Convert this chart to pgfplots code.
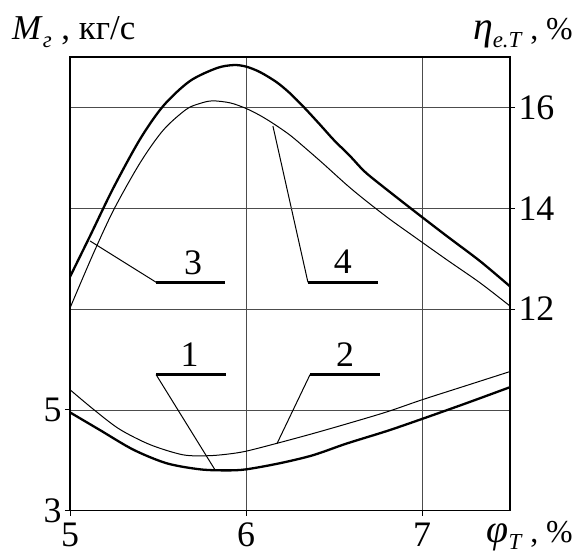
\documentclass[border=0pt]{standalone}
\usepackage{fontspec}
\setmainfont{Liberation Serif}
\usepackage{pgfplots}
\usepackage{pgfplotstable}
\pgfplotsset{compat=1.18}

\newcommand{\ticfont}{\fontsize{36}{38}\selectfont}
\newcommand{\mfont}{\fontsize{35}{38}\selectfont}
\newcommand{\labfont}{\fontsize{32}{35}\selectfont}
\newcommand{\grkfont}{\fontsize{40}{42}\selectfont}
\newcommand{\subfont}{\fontsize{23}{25}\selectfont}

% Mass flow of gas, kg/s (left scale)
\pgfplotstableread{
x y
5.00 4.95
5.17 4.60
5.36 4.21
5.55 3.94
5.74 3.82
5.89 3.80
6.00 3.82
6.19 3.94
6.38 4.10
6.57 4.33
6.80 4.58
7.00 4.82
7.25 5.13
7.50 5.45
}\curveone

\pgfplotstableread{
x y
5.00 5.40
5.13 5.02
5.28 4.62
5.455 4.31
5.64 4.11
5.78 4.09
5.89 4.12
6.00 4.18
6.19 4.35
6.38 4.53
6.57 4.72
6.80 4.96
7.00 5.20
7.25 5.48
7.50 5.76
}\curvetwo

% Effective efficiency, % (right scale)
\pgfplotstableread{
x y
5.00 12.64
5.114 13.45
5.246 14.40
5.398 15.37
5.53 16.03
5.68 16.52
5.834 16.78
5.93 16.84
6.00 16.81
6.08 16.70
6.174 16.50
6.25 16.28
6.33 16.00
6.42 15.66
6.50 15.35
6.59 15.04
6.67 14.74
6.76 14.48
6.95 13.96
7.14 13.45
7.33 12.95
7.50 12.45
}\curvethree

\pgfplotstableread{
x y
5.00 12.02
5.13 13.08
5.25 13.98
5.40 14.91
5.53 15.55
5.66 15.96
5.74 16.08
5.81 16.13
5.91 16.09
6.00 15.98
6.08 15.84
6.155 15.68
6.25 15.45
6.345 15.17
6.44 14.88
6.57 14.47
6.67 14.18
6.81 13.80
6.95 13.45
7.14 12.98
7.33 12.52
7.50 12.06
}\curvefour

\pgfplotsset{
  common/.style={
    scale only axis, width=440bp, height=453.7bp,
    xmin=5, xmax=7.5,
    axis line style={line width=1.2bp},
    tick align=outside, major tick length=5bp,
    every tick/.style={black, line width=0.8bp},
    major grid style={black!70, line width=0.7bp},
    ticklabel style={font=\ticfont},
    /pgf/number format/assume math mode=true,
  },
}

\begin{document}
\begin{tikzpicture}
\begin{axis}[common,
  ymin=3, ymax=12,
  xtick={5,6,7}, ytick={3,5},
  xtick pos=left, ytick pos=left,
  xticklabel style={inner sep=1bp, yshift=-6bp},
  grid=major,
]
\addplot[black, line width=2.3bp, smooth, tension=0.5] table {\curveone};
\addplot[black, line width=1bp, smooth, tension=0.5] table {\curvetwo};

% leaders and curve numbers
\draw[line width=1bp] (axis cs:5.114,8.35) -- (axis cs:5.49,7.53);
\draw[line width=2.6bp] (axis cs:5.49,7.53) -- (axis cs:5.88,7.53);
\node[font=\ticfont, anchor=base, inner sep=0pt] at (axis cs:5.70,7.68) {3};

\draw[line width=1bp] (axis cs:6.153,10.63) -- (axis cs:6.352,7.53);
\draw[line width=2.6bp] (axis cs:6.352,7.53) -- (axis cs:6.75,7.53);
\node[font=\ticfont, anchor=base, inner sep=0pt] at (axis cs:6.55,7.70) {4};

\draw[line width=1bp] (axis cs:5.824,3.81) -- (axis cs:5.489,5.70);
\draw[line width=2.6bp] (axis cs:5.489,5.70) -- (axis cs:5.886,5.70);
\node[font=\ticfont, anchor=base, inner sep=0pt] at (axis cs:5.68,5.86) {1};

\draw[line width=1bp] (axis cs:6.176,4.33) -- (axis cs:6.364,5.70);
\draw[line width=2.6bp] (axis cs:6.364,5.70) -- (axis cs:6.761,5.70);
\node[font=\ticfont, anchor=base, inner sep=0pt] at (axis cs:6.5625,5.86) {2};
\end{axis}

\begin{axis}[common,
  ymin=8, ymax=17,
  xtick=\empty, ytick={12,14,16},
  ytick pos=right, yticklabel pos=right,
  ymajorgrids,
]
\addplot[black, line width=2.3bp, smooth, tension=0.5] table {\curvethree};
\addplot[black, line width=1bp, smooth, tension=0.5] table {\curvefour};
\end{axis}

% axis titles
\node[anchor=base west, inner sep=0pt, font=\mfont] at (-58bp,470.7bp)
  {\textit{M}\raisebox{-0.22em}{\subfont\itshape г}\;, кг/с};
\node[anchor=base east, inner sep=0pt, font=\labfont] at (503bp,470.7bp)
  {{\grkfont\itshape η}\raisebox{-0.22em}{\subfont\itshape e.T}\;, \%};
\node[anchor=base east, inner sep=0pt, font=\labfont] at (503bp,-31.3bp)
  {{\grkfont\itshape φ}\raisebox{-0.22em}{\subfont\itshape T}\;, \%};

\pgfresetboundingbox
\path (-70bp,-42.3bp) rectangle (509bp,510.7bp);
\end{tikzpicture}
\end{document}
